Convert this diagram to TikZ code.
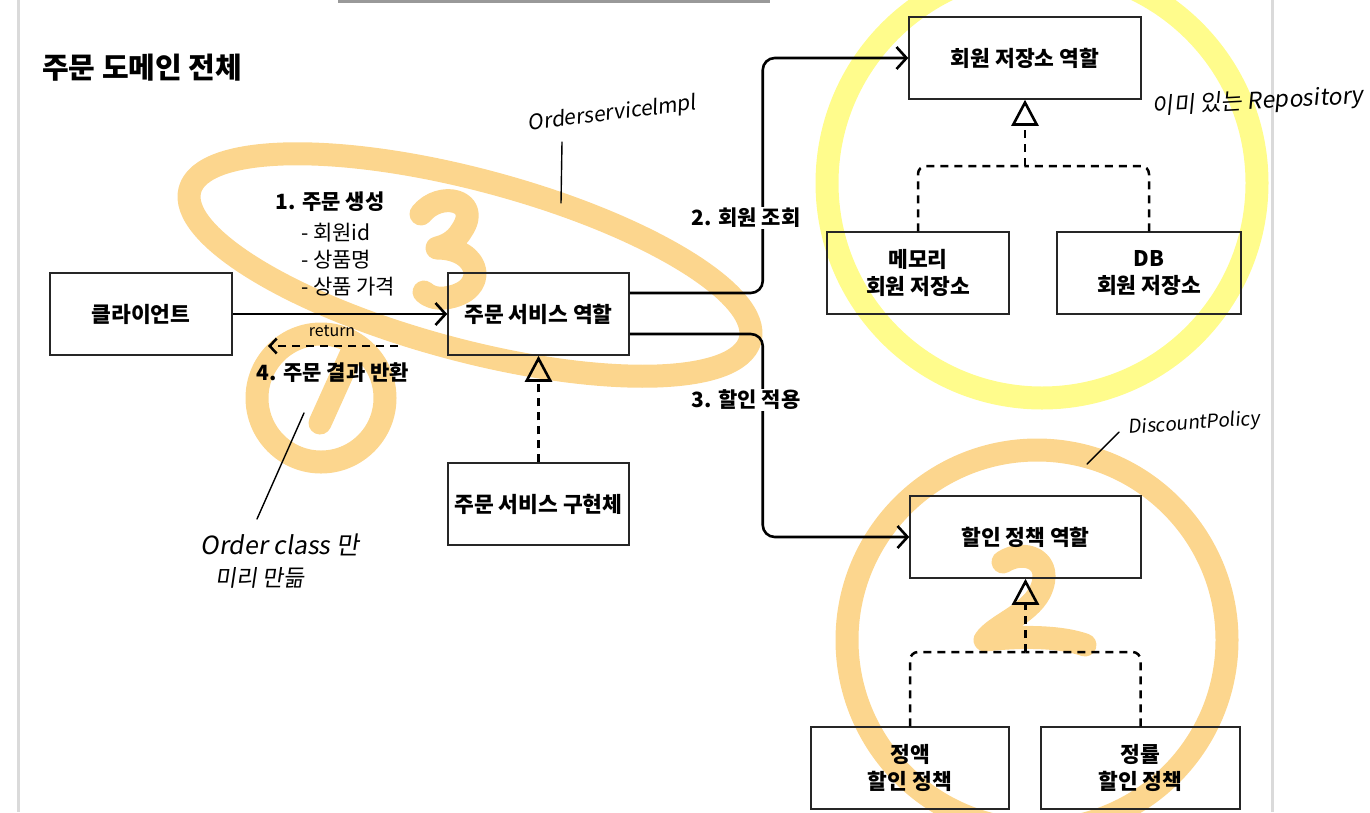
\documentclass[tikz,border=0pt]{standalone}
\usepackage{fontspec}
\setmainfont{Noto Sans CJK KR}
\newfontfamily\handfont{Noto Sans CJK KR}[FakeSlant=0.15]
\usetikzlibrary{arrows.meta}
\definecolor{hlorange}{RGB}{252,214,142}
\definecolor{hlyellow}{RGB}{255,252,140}
\definecolor{framegray}{RGB}{218,218,218}
\tikzset{
    box/.style={draw=black!85, line width=1.5pt, minimum height=82pt, align=center,
        font=\bfseries\fontsize{21.5}{27}\selectfont},
    conn/.style={line width=2.6pt, rounded corners=12pt,
        -{Straight Barb[length=10pt,width=22pt,line width=2.6pt]}},
    realize/.style={line width=2.5pt, dash pattern=on 8pt off 6pt, rounded corners=8pt},
    tri/.style={-{Triangle[open,length=26pt,width=27pt,line width=2.6pt]}},
    lbl/.style={font=\bfseries\fontsize{21}{24}\selectfont, inner sep=1pt},
    arg/.style={anchor=west, font=\fontsize{21}{24}\selectfont, inner sep=0pt},
    hlo/.style={draw=hlorange, line width=23pt, line cap=round, line join=round},
    hly/.style={draw=hlyellow, line width=23pt},
    pen/.style={line width=1.4pt, line cap=round},
    hand/.style={font=\handfont\fontsize{21}{24}\selectfont}
}
\begin{document}
\begin{tikzpicture}[x=1pt, y=-1pt]
    \useasboundingbox (0,0) rectangle (1370,812);
    \clip (0,0) rectangle (1370,812);
    % ── page frame ───────────────────────────────────────
    \fill[framegray] (17,0) rectangle (20,812);
    \fill[framegray] (1271,0) rectangle (1274,812);
    \fill[black!40] (338,0) rectangle (770,3);
    % ── highlighter strokes (behind the diagram) ─────────
    \draw[hlo, rotate around={-15:(470,265)}] (470,265) ellipse (290 and 85);
    \draw[hlo] (421,214) .. controls (440,190) and (482,200) .. (462,230)
        .. controls (455,242) and (445,246) .. (437,248)
        .. controls (482,248) and (490,292) .. (445,298)
        .. controls (435,299) and (428,296) .. (424,292);
    \draw[hlo] (321,398) circle (64);
    \draw[hlo] (352,352) -- (320,423);
    \draw[hly] (1042,183) circle (215);
    \draw[hlo] (1037,640) circle (190);
    \draw[hlo] (1003,562) .. controls (1025,548) and (1055,560) .. (1040,592)
        .. controls (1028,615) and (995,625) .. (985,640)
        .. controls (1020,636) and (1060,636) .. (1085,645);
    % ── title ────────────────────────────────────────────
    \node[anchor=west, font=\bfseries\fontsize{29}{32}\selectfont, inner sep=0pt] (title) at (42,68) {주문 도메인 전체};
    % ── order side ───────────────────────────────────────
    \node[box, minimum width=182pt] (client) at (141,314) {클라이언트};
    \node[box, minimum width=181pt] (svc) at (538.5,314) {주문 서비스 역할};
    \node[box, minimum width=181pt] (impl) at (538.5,504) {주문 서비스 구현체};
    \draw[conn] (client) -- (svc);
    \node[lbl] (create) at (330,202) {1. 주문 생성};
    \node[arg] (arg1) at (301,233) {- 회원id};
    \node[arg] (arg2) at (301,260) {- 상품명};
    \node[arg] (arg3) at (301,287) {- 상품 가격};
    % return
    \coordinate (retA) at (398,346);
    \coordinate (retB) at (268,346);
    \draw[line width=2.5pt, dash pattern=on 8pt off 6pt,
        -{Straight Barb[length=7pt,width=15pt,line width=2.5pt]}] (retA) -- (retB);
    \node[font=\fontsize{16}{18}\selectfont, inner sep=0pt] (ret) at (332,331) {return};
    \node[lbl] (result) at (333,373) {4. 주문 결과 반환};
    \draw[realize, tri] (impl) -- (svc);
    % ── member repository ────────────────────────────────
    \node[box, minimum width=232pt] (repo) at (1025,58) {회원 저장소 역할};
    \node[box, minimum width=182pt] (mem) at (918,273) {메모리\\회원 저장소};
    \node[box, minimum width=184pt] (db) at (1149,273) {DB\\회원 저장소};
    \coordinate (repoJ) at (1025,166);
    \draw[realize] (mem) |- (repoJ);
    \draw[realize] (db) |- (repoJ);
    \draw[realize, tri] (repoJ) -- (repo);
    \draw[conn] ([yshift=21pt]svc.east) -- ++(133,0) |- (repo);
    \node[lbl, fill=white] (find) at (746,218) {2. 회원 조회};
    % ── discount policy ──────────────────────────────────
    \node[box, minimum width=231pt] (disc) at (1025.5,537) {할인 정책 역할};
    \node[box, minimum width=198pt] (fixed) at (910,768) {정액\\할인 정책};
    \node[box, minimum width=199pt] (rate) at (1140.5,768) {정률\\할인 정책};
    \coordinate (discJ) at (1025.5,652);
    \draw[realize] (fixed) |- (discJ);
    \draw[realize] (rate) |- (discJ);
    \draw[realize, tri] (discJ) -- (disc);
    \draw[conn] ([yshift=-20pt]svc.east) -- ++(133,0) |- (disc);
    \node[lbl, fill=white] (apply) at (746,400) {3. 할인 적용};
    % ── handwritten notes ────────────────────────────────
    \node[hand, rotate=7] (nImpl) at (612,114) {Orderservicelmpl};
    \draw[pen] (562,142) -- (561,203);
    \node[hand, rotate=3, font=\handfont\fontsize{23}{26}\selectfont] (nRepo) at (1258,102) {이미 있는 Repository};
    \node[hand, rotate=4, font=\handfont\fontsize{19}{22}\selectfont] (nDisc) at (1194,424) {DiscountPolicy};
    \draw[pen] (1119,432) -- (1087,464);
    \node[hand, font=\handfont\fontsize{25}{28}\selectfont] (nOrder) at (280,545) {Order class 만};
    \node[hand, font=\handfont\fontsize{23}{26}\selectfont] (nEarly) at (260,578) {미리 만듦};
    \draw[pen] (304,413) -- (257,519);
\end{tikzpicture}
\end{document}
